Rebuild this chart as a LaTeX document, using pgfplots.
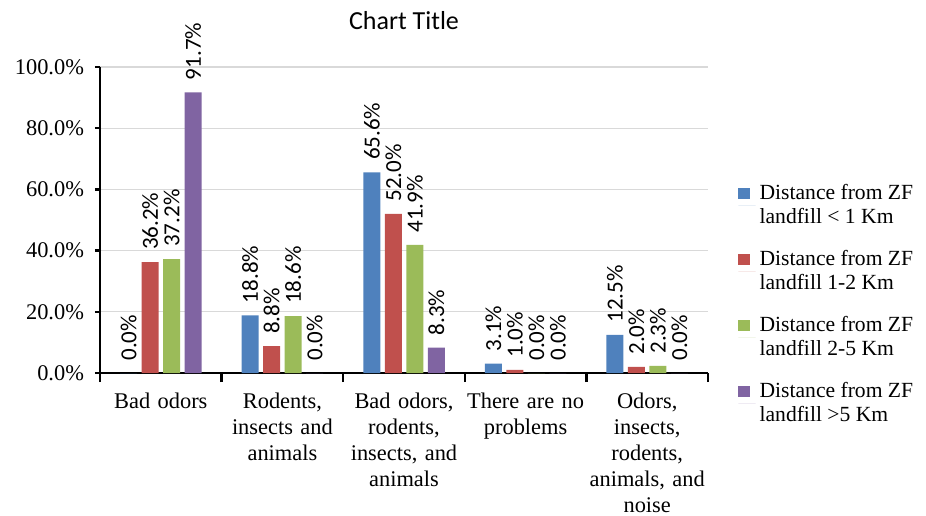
\documentclass[border=0pt]{standalone}
\usepackage{fontspec}
\setmainfont{Liberation Serif}
\newfontfamily\carlito{Carlito}
\usepackage{pgfplots}
\pgfplotsset{compat=1.18}
\definecolor{cblue}{HTML}{4F81BD}
\definecolor{cred}{HTML}{C0504D}
\definecolor{cgreen}{HTML}{9BBB59}
\definecolor{cpurple}{HTML}{8064A2}
\definecolor{gridgray}{HTML}{D9D9D9}
\begin{document}
\begin{tikzpicture}
\begin{axis}[
  name=ax,
  scale only axis,
  width=304pt, height=153pt,
  xmin=-0.5, xmax=4.5,
  ymin=0, ymax=100,
  clip=false,
  ybar=2.25pt,
  bar width=8.5pt,
  axis x line*=bottom,
  axis y line*=left,
  axis line style={black, line width=1.4pt},
  xtick={0,1,2,3,4},
  xticklabels={Bad odors,{Rodents,\\insects and\\animals},{Bad odors,\\rodents,\\insects, and\\animals},{There are no\\problems},{Odors,\\insects,\\rodents,\\animals, and\\noise}},
  major x tick style={draw=none},
  minor xtick={-0.5,0.5,1.5,2.5,3.5,4.5},
  minor x tick style={black, line width=1.2pt},
  minor tick length=4.5pt,
  tick align=outside,
  xticklabel style={align=center, text width=66pt, font=\fontsize{11.2}{13}\selectfont, yshift=-4pt},
  ytick={0,20,40,60,80,100},
  yticklabel={\pgfmathprintnumber[fixed,zerofill,precision=1]{\tick}\%},
  /pgf/number format/assume math mode=true,
  yticklabel style={font=\fontsize{11.2}{13}\selectfont, xshift=-2pt},
  major y tick style={black, line width=1.2pt},
  major tick length=2.5pt,
  ymajorgrids,
  grid style={gridgray, line width=0.6pt},
  title={\carlito Chart Title},
  title style={at={(0.5,1)}, anchor=base, yshift=13pt, font=\fontsize{13}{15}\selectfont},
  nodes near coords={\pgfmathprintnumber[fixed,zerofill,precision=1]{\pgfplotspointmeta}\%},
  every node near coord/.append style={rotate=90, anchor=west, font=\carlito\fontsize{11.5}{13}\selectfont, inner xsep=6pt, inner ysep=1pt, /pgf/number format/assume math mode=true},
  legend style={draw=none, at={(1,0.24)}, anchor=west, xshift=12pt, yshift=-2.5pt, font=\fontsize{10.8}{12}\selectfont, row sep=8pt, cells={anchor=west, align=left}},
  legend image code/.code={\fill[#1] (0pt,3.2pt) rectangle (5.6pt,8.8pt); \path (0pt,0pt) -- (8.6pt,0pt);},
]
\addplot[fill=cblue, draw=none] coordinates {(0,0.0) (1,18.8) (2,65.6) (3,3.1) (4,12.5)};
\addplot[fill=cred, draw=none] coordinates {(0,36.2) (1,8.8) (2,52.0) (3,1.0) (4,2.0)};
\addplot[fill=cgreen, draw=none] coordinates {(0,37.2) (1,18.6) (2,41.9) (3,0.0) (4,2.3)};
\addplot[fill=cpurple, draw=none] coordinates {(0,91.7) (1,0.0) (2,8.3) (3,0.0) (4,0.0)};
\legend{{Distance from ZF\\landfill < 1 Km},{Distance from ZF\\landfill 1-2 Km},{Distance from ZF\\landfill 2-5 Km},{Distance from ZF\\landfill >5 Km}}
\end{axis}
\pgfresetboundingbox
\path[use as bounding box] ([xshift=-50pt,yshift=-71pt]ax.south west) rectangle ([xshift=109pt,yshift=33.5pt]ax.north east);
\end{tikzpicture}
\end{document}
